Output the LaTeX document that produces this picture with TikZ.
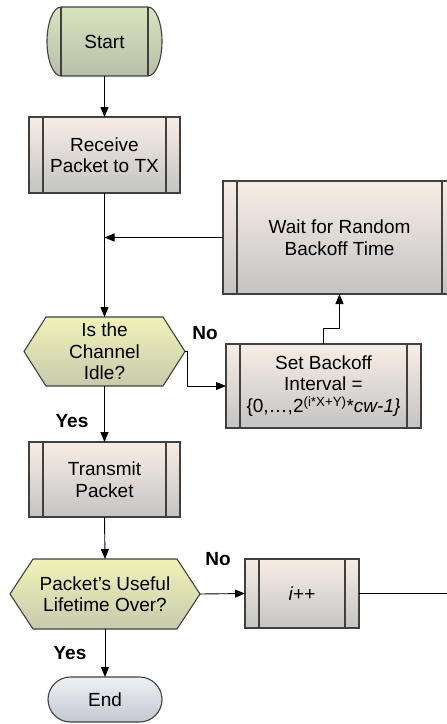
\documentclass[tikz,border=0pt]{standalone}
\usepackage{fontspec}
\setmainfont{Liberation Sans}
\usetikzlibrary{arrows.meta}
\pgfdeclarelayer{background}
\pgfsetlayers{background,main}
\definecolor{edgec}{RGB}{64,64,64}
\definecolor{proctop}{RGB}{248,237,229}
\definecolor{procbot}{RGB}{196,196,196}
\definecolor{starttop}{RGB}{216,228,189}
\definecolor{startbot}{RGB}{184,190,170}
\definecolor{dectop}{RGB}{240,242,184}
\definecolor{decbot}{RGB}{200,202,174}
\definecolor{endtop}{RGB}{238,241,246}
\definecolor{endbot}{RGB}{196,200,207}
\tikzset{
  base/.style={font=\fontsize{19}{21.5}\selectfont, align=center, inner sep=0pt, outer sep=0pt},
  shapeline/.style={draw=edgec, line width=1.1pt},
  proc/.style={base, rectangle, shapeline, top color=proctop, bottom color=procbot,
    path picture={\draw[edgec, line width=1.1pt]
      ([xshift=14pt]path picture bounding box.north west) -- ([xshift=14pt]path picture bounding box.south west)
      ([xshift=-14pt]path picture bounding box.north east) -- ([xshift=-14pt]path picture bounding box.south east);}},
  decfill/.style={shapeline, top color=dectop, bottom color=decbot},
  startfill/.style={shapeline, top color=starttop, bottom color=startbot},
  endnode/.style={base, rectangle, rounded corners=22.5pt, shapeline, top color=endtop, bottom color=endbot},
  lbl/.style={font=\fontsize{19}{21.5}\selectfont\bfseries, inner sep=0pt},
  conn/.style={draw=black, line width=0.9pt},
  arr/.style={conn, -{Triangle[length=10pt,width=8pt]}}
}
\begin{document}
\begin{tikzpicture}[x=1pt,y=-1pt]
\useasboundingbox (0,0) rectangle (447,724);
\clip (0,0) rectangle (447,724);

% nodes
\node[base, minimum width=115pt, minimum height=69pt] (start) at (104.5,41.5) {Start};
\node[proc, minimum width=151pt, minimum height=76pt] (recv) at (104.5,155) {Receive\\Packet to TX};
\node[proc, minimum width=233pt, minimum height=113pt] (wait) at (339.5,237.5) {Wait for Random\\Backoff Time};
\node[base, minimum width=161pt, minimum height=69pt] (d1) at (104.5,351.5) {Is the\\Channel\\Idle?};
\node[proc, minimum width=195pt, minimum height=84pt] (setb) at (323.5,386) {Set Backoff\\Interval =\\\{0,…,2\textsuperscript{(i*X+Y)}*\textit{cw-1\}}};
\node[proc, minimum width=151pt, minimum height=75pt] (trans) at (104.5,479.5) {Transmit\\Packet};
\node[base, minimum width=190pt, minimum height=70pt] (d2) at (105,594) {Packet’s Useful\\Lifetime Over?};
\node[proc, minimum width=114pt, minimum height=69pt] (inc) at (302,593.5) {\textit{i}++};
\node[endnode, minimum width=114pt, minimum height=45pt] (endn) at (105,699.5) {End};

% shapes drawn behind text
\begin{pgfonlayer}{background}
\draw[startfill]
  ([xshift=14pt]start.north west) -- ([xshift=-14pt]start.north east)
  arc[start angle=90, end angle=-90, x radius=14pt, y radius=34.5pt]
  -- ([xshift=14pt]start.south west)
  arc[start angle=270, end angle=90, x radius=14pt, y radius=34.5pt] -- cycle;
\draw[decfill] (d1.west) -- ([xshift=22pt]d1.north west) -- ([xshift=-22pt]d1.north east)
  -- (d1.east) -- ([xshift=-22pt]d1.south east) -- ([xshift=22pt]d1.south west) -- cycle;
\draw[decfill] (d2.west) -- ([xshift=23pt]d2.north west) -- ([xshift=-23pt]d2.north east)
  -- (d2.east) -- ([xshift=-23pt]d2.south east) -- ([xshift=23pt]d2.south west) -- cycle;
\end{pgfonlayer}
\draw[shapeline] ([xshift=14pt]start.north west) -- ([xshift=14pt]start.south west)
  ([xshift=-14pt]start.north east) -- ([xshift=-14pt]start.south east);

% labels
\node[lbl] (no1) at (205,333) {No};
\node[lbl] (yes1) at (72,421) {Yes};
\node[lbl] (no2) at (218,559) {No};
\node[lbl] (yes2) at (70,653) {Yes};

% connectors
\coordinate (exitR) at (470,593.5);
\draw[arr] (start.south) -- (recv.north);
\draw[arr] (recv.south) -- (d1.north);
\draw[arr] (wait.west) -- (wait.west -| recv.south);
\draw[arr] (d1.east) -- ++(2,0) |- (setb.west);
\draw[arr] (setb.north) -- ++(0,-16) -| (wait.south);
\draw[arr] (d1.south) -- (trans.north);
\draw[arr] (trans.south) -- (d2.north);
\draw[arr] (d2.east) -- (inc.west);
\draw[conn] (inc.east) -- (exitR);
\draw[arr] (d2.south) -- (endn.north);
\end{tikzpicture}
\end{document}
